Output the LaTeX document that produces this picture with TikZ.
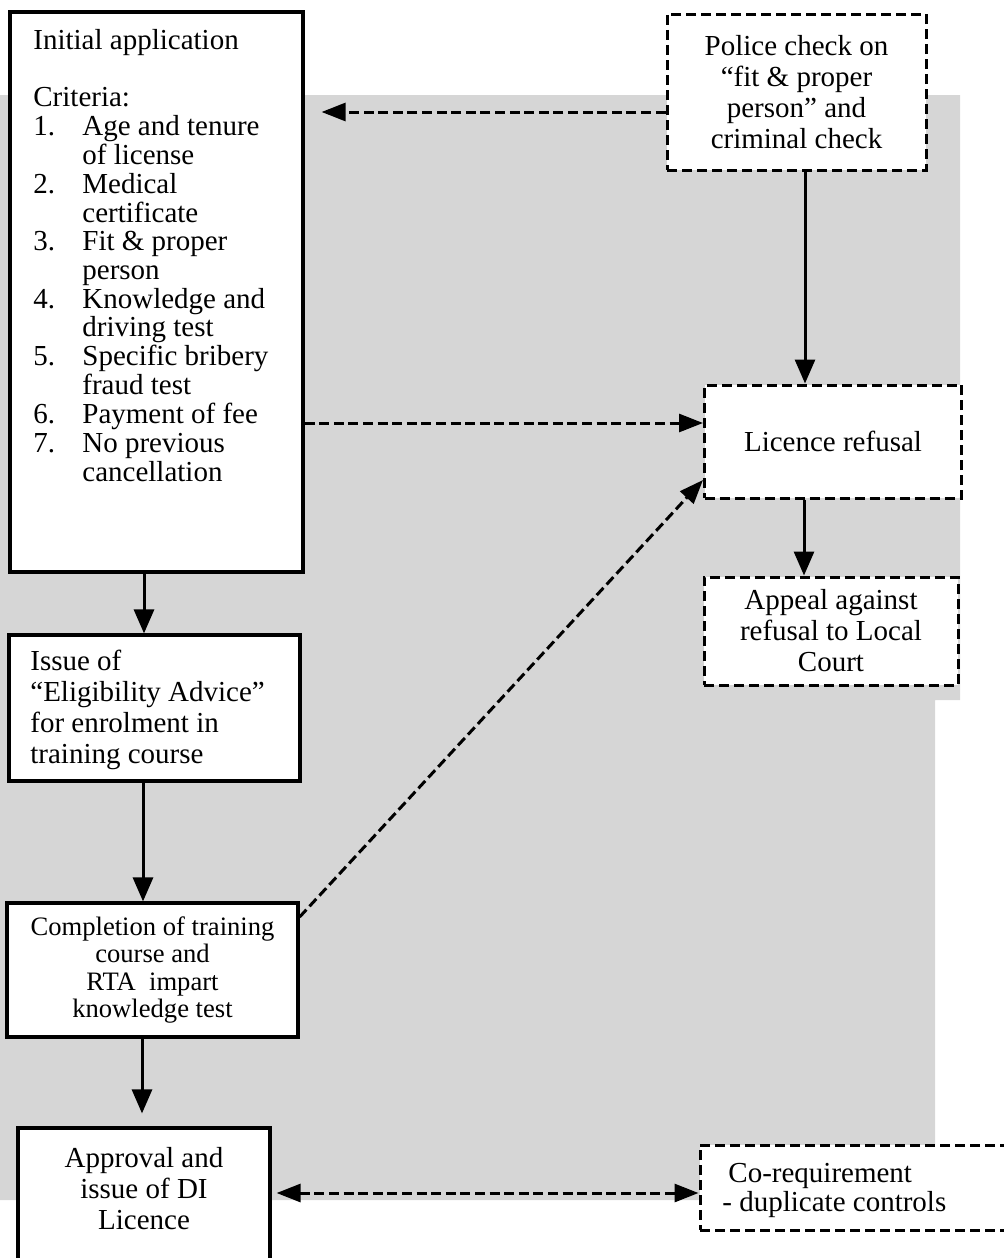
\documentclass[tikz,border=0pt]{standalone}
\usepackage{fontspec}
\setmainfont{Liberation Serif}
\usetikzlibrary{arrows.meta}
\definecolor{bggray}{RGB}{214,214,214}
\begin{document}
\begin{tikzpicture}[x=0.5pt,y=-0.5pt,
  solidbox/.style={draw=black, line width=1.6pt, fill=white, inner sep=0pt},
  dashbox/.style={draw=black, line width=1.5pt, dash pattern=on 5pt off 2.5pt, fill=white, inner sep=0pt},
  txt/.style={inner sep=0pt, font=\fontsize{14.5}{15.5}\selectfont},
  solidarrow/.style={line width=1.5pt, -{Triangle[length=12pt,width=10pt]}},
  dasharrow/.style={line width=1.5pt, dash pattern=on 5pt off 2.3pt, -{Triangle[length=12pt,width=9pt]}},
]
\useasboundingbox (0,0) rectangle (1004,1258);
\clip (0,0) rectangle (1004,1258);
% scanned grey backdrop
\fill[bggray] (0,95) -- (960,95) -- (960,700) -- (935,700) -- (935,1200) -- (0,1200) -- cycle;

% boxes
\node[solidbox, minimum width=146.5pt, minimum height=280pt] (A) at (156.5,292) {};
\node[txt, anchor=north west] (Atext) at (33,29) {\fontsize{14.5}{14.3}\selectfont
\begin{tabular}{@{}p{24.5pt}@{}l@{}}
\multicolumn{2}{@{}l@{}}{Initial application}\\
\multicolumn{2}{@{}l@{}}{}\\
\multicolumn{2}{@{}l@{}}{Criteria:}\\
1. & Age and tenure\\
   & of license\\
2. & Medical\\
   & certificate\\
3. & Fit \& proper\\
   & person\\
4. & Knowledge and\\
   & driving test\\
5. & Specific bribery\\
   & fraud test\\
6. & Payment of fee\\
7. & No previous\\
   & cancellation
\end{tabular}};

\node[dashbox, txt, minimum width=129.5pt, minimum height=78pt, align=center] (P) at (796.5,92)
  {Police check on\\“fit \& proper\\person” and\\criminal check};

\node[dashbox, txt, minimum width=128.5pt, minimum height=56.5pt, align=center] (R) at (833,441.5)
  {Licence refusal};

\node[dashbox, txt, minimum width=127pt, minimum height=54pt, align=center] (AP) at (831,631)
  {Appeal against\\refusal to Local\\Court};

\node[solidbox, minimum width=145.5pt, minimum height=73pt] (I) at (154.5,708) {};
\node[txt, anchor=north west] (Itext) at (30,648) {%
\begin{tabular}{@{}l@{}}
Issue of\\
“Eligibility Advice”\\
for enrolment in\\
training course
\end{tabular}};

\node[solidbox, minimum width=145.5pt, minimum height=67pt, align=center,
  font=\fontsize{13.3}{13.6}\selectfont] (C) at (152.5,970)
  {Completion of training\\course and\\RTA\ \ impart\\knowledge test};

\node[solidbox, minimum width=126pt, minimum height=81pt] (AV) at (144,1209) {};
\node[txt, anchor=north] (AVtext) at (144,1145) {%
\begin{tabular}{@{}c@{}}
Approval and\\
issue of DI\\
Licence
\end{tabular}};

\node[dashbox, minimum width=165pt, minimum height=42.5pt] (CR) at (865,1187.5) {};
\node[txt, anchor=north west] (CRtext) at (722,1162) {\fontsize{14.5}{14.5}\selectfont
\begin{tabular}{@{}l@{}}
\hspace*{3pt}Co-requirement\\
- duplicate controls
\end{tabular}};

% helper coordinates
\coordinate (yPA) at (0,112);
\coordinate (xPR) at (805,0);
\coordinate (yAR) at (0,423);
\coordinate (yC1) at (0,917);
\coordinate (yR1) at (0,480);
\coordinate (xRA) at (804,0);
\coordinate (xL1) at (144,0);
\coordinate (xL2) at (143,0);
\coordinate (xL3) at (142,0);
\coordinate (yAC) at (0,1193);

% connectors
\draw[dasharrow, shorten >=8.5pt] (P.west |- yPA) -- (A.east |- yPA);
\draw[solidarrow] (P.south -| xPR) -- (R.north -| xPR);
\draw[dasharrow] (A.east |- yAR) -- (R.west |- yAR);
\draw[dasharrow] (C.east |- yC1) -- (R.west |- yR1);
\draw[solidarrow] (R.south -| xRA) -- (AP.north -| xRA);
\draw[solidarrow] (A.south -| xL1) -- (I.north -| xL1);
\draw[solidarrow] (I.south -| xL2) -- (C.north -| xL2);
\draw[solidarrow, shorten >=6.5pt] (C.south -| xL3) -- (AV.north -| xL3);
\draw[line width=1.5pt, dash pattern=on 5pt off 2.3pt,
  {Triangle[length=12pt,width=9pt]}-{Triangle[length=12pt,width=9pt]}, shorten <=2.5pt]
  (AV.east |- yAC) -- (CR.west |- yAC);
\end{tikzpicture}
\end{document}
